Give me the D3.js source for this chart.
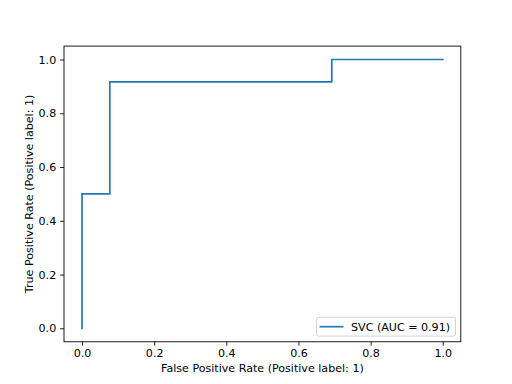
<!DOCTYPE html>
<html><head><meta charset="utf-8">
<script src="https://cdn.jsdelivr.net/npm/d3@7"></script>
<style>body{margin:0;background:#fff}svg{display:block}text{font-family:"DejaVu Sans",sans-serif}</style>
</head><body>
<script>
const fpr = [0, 0, 1/13, 1/13, 9/13, 9/13, 1];
const tpr = [0, 0.5, 0.5, 11/12, 11/12, 1, 1];
const xTicks = [0, 0.2, 0.4, 0.6, 0.8, 1.0];
const yTicks = [0, 0.2, 0.4, 0.6, 0.8, 1.0];
const legendLabel = "SVC (AUC = 0.91)";
const xLabel = "False Positive Rate (Positive label: 1)";
const yLabel = "True Positive Rate (Positive label: 1)";

const W = 512, H = 384;
const L = 64, R = 460.8, T = 46.08, B = 341.76;
const svg = d3.select("body").append("svg").attr("width", W).attr("height", H);
const x = d3.scaleLinear().domain([-0.05, 1.05]).range([L, R]);
const y = d3.scaleLinear().domain([-0.05, 1.05]).range([B, T]);
const fs = 11.1;

const line = d3.line().x(d => x(d[0])).y(d => y(d[1]));
svg.append("path").datum(fpr.map((v, i) => [v, tpr[i]]))
  .attr("d", line).attr("fill", "none").attr("stroke", "#1f77b4")
  .attr("stroke-width", 1.67).attr("stroke-linejoin", "miter").attr("stroke-linecap", "square");

const xa = svg.append("g").attr("transform", `translate(0,${B})`)
  .call(d3.axisBottom(x).tickValues(xTicks).tickFormat(d3.format(".1f")).tickSize(3.9).tickPadding(3.9));
const ya = svg.append("g").attr("transform", `translate(${L},0)`)
  .call(d3.axisLeft(y).tickValues(yTicks).tickFormat(d3.format(".1f")).tickSize(3.9).tickPadding(3.9));
[xa, ya].forEach(a => {
  a.select(".domain").remove();
  a.selectAll("line").attr("stroke", "#000").attr("stroke-width", 0.89);
  a.selectAll("text").attr("font-size", fs).attr("fill", "#000").attr("font-family", "DejaVu Sans");
});

svg.append("rect").attr("x", L).attr("y", T).attr("width", R - L).attr("height", B - T)
  .attr("fill", "none").attr("stroke", "#000").attr("stroke-width", 0.89);

svg.append("text").attr("x", (L + R) / 2).attr("y", 372).attr("text-anchor", "middle")
  .attr("font-size", fs).text(xLabel);
svg.append("text").attr("transform", `translate(33,${(T + B) / 2}) rotate(-90)`)
  .attr("text-anchor", "middle").attr("font-size", fs).text(yLabel);

// legend
const lg = svg.append("g");
lg.append("rect").attr("x", 316.5).attr("y", 317.3).attr("width", 139).attr("height", 18.8)
  .attr("rx", 2).attr("fill", "#fff").attr("fill-opacity", 0.8)
  .attr("stroke", "#cccccc").attr("stroke-width", 0.89);
lg.append("line").attr("x1", 319.5).attr("x2", 343.5).attr("y1", 326.7).attr("y2", 326.7)
  .attr("stroke", "#1f77b4").attr("stroke-width", 1.67);
lg.append("text").attr("x", 351).attr("y", 330.7).attr("font-size", fs).text(legendLabel);
</script>
</body></html>
